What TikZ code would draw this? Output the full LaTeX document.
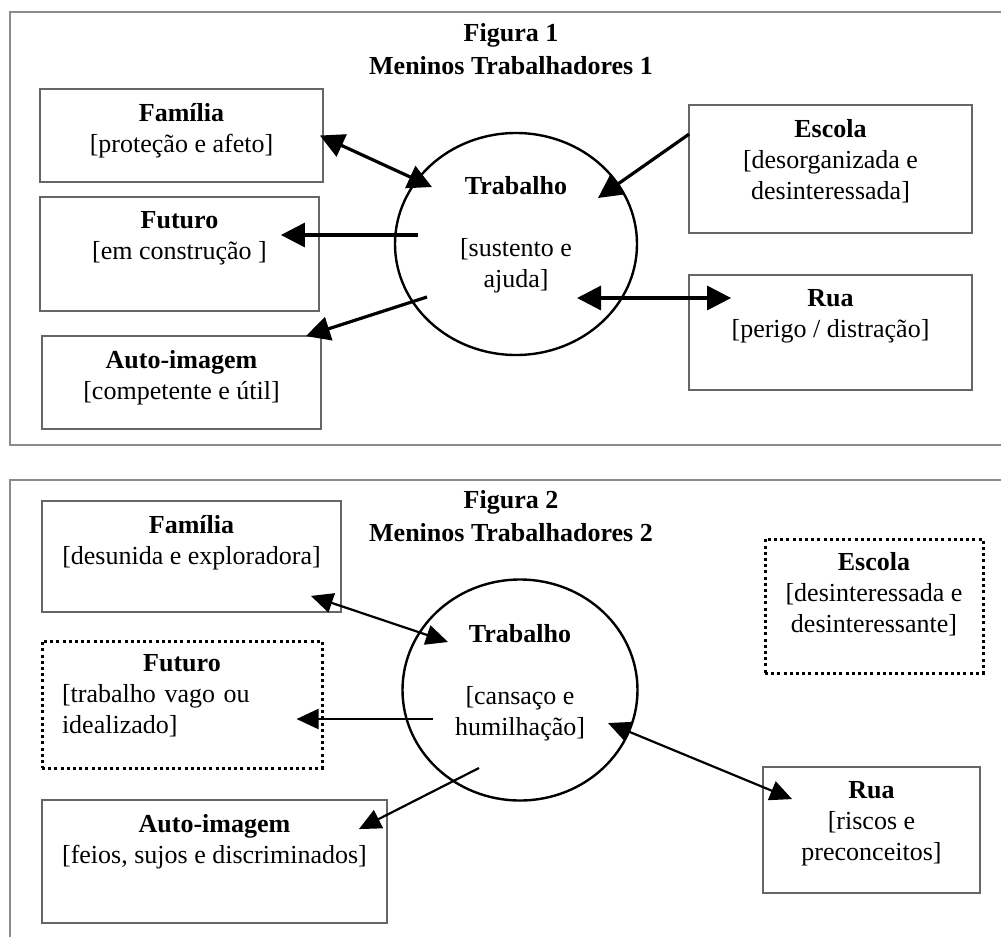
\documentclass[tikz,border=0pt]{standalone}
\usepackage{fontspec}
\setmainfont{Liberation Serif}
\usetikzlibrary{arrows.meta,shapes.geometric}

\begin{document}
\begin{tikzpicture}[x=0.5pt, y=-0.5pt,
	every node/.style={font=\fontsize{13}{15.5}\selectfont, inner sep=0pt},
	frame/.style={draw=black!45, line width=1.2pt},
	box/.style={draw=black!60, line width=0.9pt, rectangle},
	dotbox/.style={draw=black, line width=1.5pt, dash pattern=on 1.5pt off 1.6pt},
	boxtext/.style={anchor=north, align=center, yshift=-7.25pt},
	title/.style={align=center, font=\fontsize{13}{16.5}\selectfont\bfseries},
	work/.style={draw, ellipse, line width=1.2pt},
	bighead/.tip={Triangle[length=12pt,width=12pt]},
	smallhead/.tip={Triangle[length=11pt,width=10pt]},
	arr1/.style={line width=1.6pt},
	arr2/.style={line width=1.1pt},
]

	\useasboundingbox (0,0) rectangle (1001,937);

	% Figura 1
	\draw[frame] (1001,12) -- (10,12) -- (10,445) -- (1001,445);
	\node[title] (title1) at (511,49) {Figura 1\\Meninos Trabalhadores 1};

	\node[box, minimum width=141.5pt, minimum height=46.5pt] (fam1) at (181.5,135.5) {};
	\node[box, minimum width=139.5pt, minimum height=57pt] (fut1) at (179.5,254) {};
	\node[box, minimum width=139.5pt, minimum height=46.5pt] (auto1) at (181.5,382.5) {};
	\node[box, minimum width=141.5pt, minimum height=64pt] (esc1) at (830.5,169) {};
	\node[box, minimum width=141.5pt, minimum height=57.5pt] (rua1) at (830.5,332.5) {};
	\node[work, minimum width=121pt, minimum height=111pt] (trab1) at (516,244) {};

	\node[boxtext] (fam1t) at (fam1.north) {\textbf{Família}\\{[}proteção e afeto]};
	\node[boxtext] (fut1t) at (fut1.north) {\textbf{Futuro}\\{[}em construção ]};
	\node[boxtext] (auto1t) at (auto1.north) {\textbf{Auto-imagem}\\{[}competente e útil]};
	\node[boxtext] (esc1t) at (esc1.north) {\textbf{Escola}\\{[}desorganizada e\\desinteressada]};
	\node[boxtext] (rua1t) at (rua1.north) {\textbf{Rua}\\{[}perigo / distração]};
	\node[align=center] (trab1t) at ([yshift=4.5pt]trab1.center) {\textbf{Trabalho}\\[15.5pt]{[}sustento e\\ajuda]};

	\draw[arr1, bighead-bighead] ([xshift=-2pt]fam1.east) -- ([shift={(-84,-57)}]trab1.center);
	\draw[arr1, -bighead] ([shift={(-98,-9)}]trab1.center) -- ([shift={(-39,-19)}]fut1.east);
	\draw[arr1, -bighead] ([shift={(-89,53)}]trab1.center) -- ([shift={(-16,1)}]auto1.north east);
	\draw[arr1, -bighead] ([shift={(1,30)}]esc1.north west) -- ([shift={(82,-46)}]trab1.center);
	\draw[arr1, bighead-bighead] ([shift={(61,54)}]trab1.center) -- ([shift={(43,-34.5)}]rua1.west);

	% Figura 2
	\draw[frame] (1001,480) -- (10,480) -- (10,937);
	\node[title] (title2) at (511,516) {Figura 2\\Meninos Trabalhadores 2};

	\node[box, minimum width=149.5pt, minimum height=55.5pt] (fam2) at (191.5,556.5) {};
	\node[dotbox, minimum width=140pt, minimum height=63.5pt] (fut2) at (182,704.5) {};
	\node[box, minimum width=172.5pt, minimum height=61.5pt] (auto2) at (214.5,861.5) {};
	\node[dotbox, minimum width=109pt, minimum height=67pt] (esc2) at (874,606) {};
	\node[box, minimum width=108.5pt, minimum height=63pt] (rua2) at (871.5,830) {};
	\node[work, minimum width=117.5pt, minimum height=110.5pt] (trab2) at (520,690) {};

	\node[boxtext] (fam2t) at (fam2.north) {\textbf{Família}\\{[}desunida e exploradora]};
	\node[boxtext, align=left, text width=120pt] (fut2t) at (fut2.north) {\makebox[120pt]{\textbf{Futuro}}\\{[}trabalho vago ou\\idealizado]};
	\node[boxtext] (auto2t) at (auto2.north) {\textbf{Auto-imagem}\\{[}feios, sujos e discriminados]};
	\node[boxtext] (esc2t) at (esc2.north) {\textbf{Escola}\\{[}desinteressada e\\desinteressante]};
	\node[boxtext] (rua2t) at (rua2.north) {\textbf{Rua}\\{[}riscos e\\preconceitos]};
	\node[align=center] (trab2t) at ([yshift=3.5pt]trab2.center) {\textbf{Trabalho}\\[15.5pt]{[}cansaço e\\humilhação]};

	\draw[arr2, smallhead-smallhead] ([shift={(-31,-17)}]fam2.south east) -- ([shift={(-72,-48)}]trab2.center);
	\draw[arr2, -smallhead] ([shift={(-87,29)}]trab2.center) -- ([shift={(-27,14.5)}]fut2.east);
	\draw[arr2, -smallhead] ([shift={(-41,78)}]trab2.center) -- ([shift={(-29,30)}]auto2.north east);
	\draw[arr2, smallhead-smallhead] ([shift={(88,33)}]trab2.center) -- ([shift={(30,33)}]rua2.north west);

\end{tikzpicture}
\end{document}
